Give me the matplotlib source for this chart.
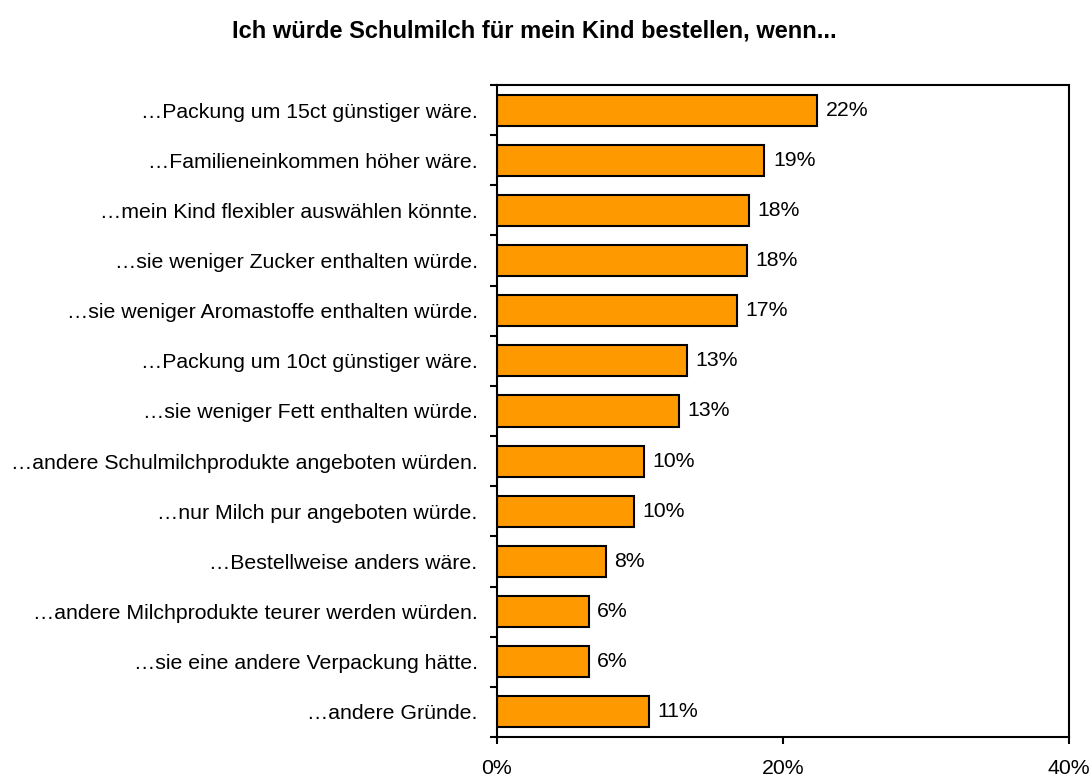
import numpy as np
import matplotlib.pyplot as plt
from matplotlib.ticker import FixedLocator

categories = [
    "…Packung um 15ct günstiger wäre.",
    "…Familieneinkommen höher wäre.",
    "…mein Kind flexibler auswählen könnte.",
    "…sie weniger Zucker enthalten würde.",
    "…sie weniger Aromastoffe enthalten würde.",
    "…Packung um 10ct günstiger wäre.",
    "…sie weniger Fett enthalten würde.",
    "…andere Schulmilchprodukte angeboten würden.",
    "…nur Milch pur angeboten würde.",
    "…Bestellweise anders wäre.",
    "…andere Milchprodukte teurer werden würden.",
    "…sie eine andere Verpackung hätte.",
    "…andere Gründe.",
]
values = [22.4, 18.7, 17.6, 17.5, 16.8, 13.3, 12.7, 10.3, 9.6, 7.6, 6.4, 6.4, 10.6]
x_ticks = [0, 20, 40]

plt.rcParams['font.family'] = ['Liberation Sans', 'DejaVu Sans']
fs = 15.3

fig = plt.figure(figsize=(10.91, 7.76), dpi=100)
ax = fig.add_axes([497 / 1091, 1 - 737 / 776, 572 / 1091, 652 / 776])

y = np.arange(len(categories))
ax.barh(y, values, height=0.62, color='#FF9900', edgecolor='black', linewidth=1.5)

for yi, v in zip(y, values):
    ax.text(v + 0.6, yi, f'{v:.0f}%', va='center', ha='left', fontsize=fs)

ax.set_xlim(0, 40)
ax.set_ylim(len(categories) - 0.5, -0.5)
ax.set_xticks(x_ticks)
ax.set_xticklabels([f'{t}%' for t in x_ticks], fontsize=fs)
ax.set_yticks(y)
ax.set_yticklabels(categories, fontsize=fs)
ax.tick_params(axis='y', which='major', length=0, pad=14)
ax.yaxis.set_minor_locator(FixedLocator(np.arange(-0.5, len(categories), 1)))
ax.tick_params(axis='y', which='minor', length=5, width=1.5, direction='out')
ax.tick_params(axis='x', length=5, width=1.5, direction='out', pad=10.5)

for s in ax.spines.values():
    s.set_linewidth(1.5)

fig.text(534 / 1091, 1 - 31 / 776, "Ich würde Schulmilch für mein Kind bestellen, wenn...",
         ha='center', va='center', fontsize=17, fontweight='bold')

fig.savefig('out.png', dpi=100)
